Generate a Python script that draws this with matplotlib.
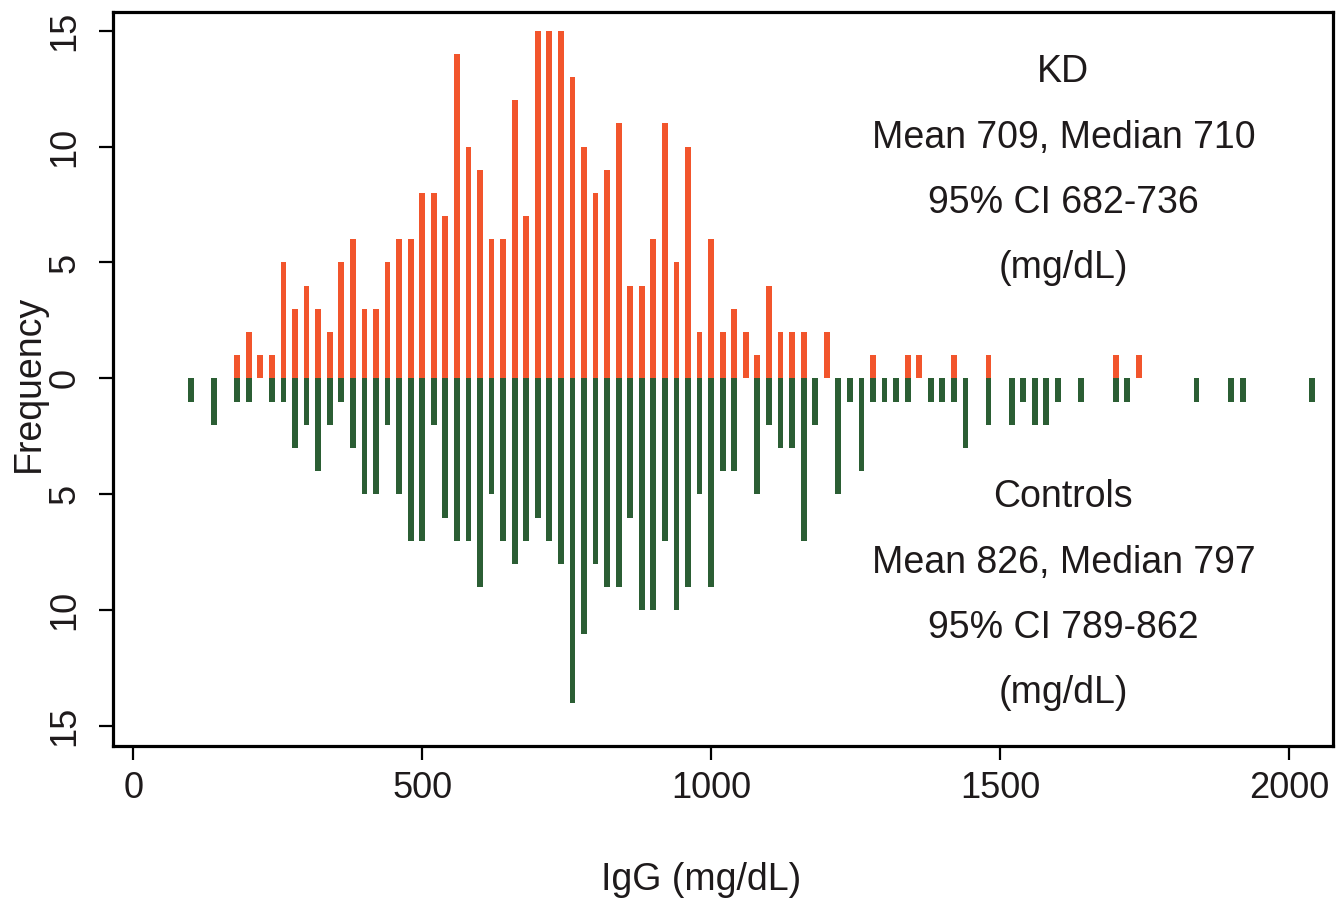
import numpy as np
import matplotlib.pyplot as plt

plt.rcParams['font.family'] = ['Liberation Sans', 'DejaVu Sans']

# --- bin positions (IgG, mg/dL) and counts ---
kd_bins = [180, 200, 220, 240, 260, 280, 300, 320, 340, 360, 380, 400, 420, 440,
           460, 480, 500, 520, 540, 560, 580, 600, 620, 640, 660, 680, 700, 720,
           740, 760, 780, 800, 820, 840, 860, 880, 900, 920, 940, 960, 980, 1000,
           1020, 1040, 1060, 1080, 1100, 1120, 1140, 1160, 1200, 1280, 1340, 1360,
           1420, 1480, 1700, 1740]
kd_counts = [1, 2, 1, 1, 5, 3, 4, 3, 2, 5, 6, 3, 3, 5,
             6, 6, 8, 8, 7, 14, 10, 9, 6, 6, 12, 7, 15, 15,
             15, 13, 10, 8, 9, 11, 4, 4, 6, 11, 5, 10, 2, 6,
             2, 3, 2, 1, 4, 2, 2, 2, 2, 1, 1, 1,
             1, 1, 1, 1]

ctrl_bins = [100, 140, 180, 200, 240, 260, 280, 300, 320, 340, 360, 380, 400, 420,
             440, 460, 480, 500, 520, 540, 560, 580, 600, 620, 640, 660, 680, 700,
             720, 740, 760, 780, 800, 820, 840, 860, 880, 900, 920, 940, 960, 980,
             1000, 1020, 1040, 1080, 1100, 1120, 1140, 1160, 1180, 1220, 1240, 1260,
             1280, 1300, 1320, 1340, 1380, 1400, 1420, 1440, 1480, 1520, 1540, 1560,
             1580, 1600, 1640, 1700, 1720, 1840, 1900, 1920, 2040]
ctrl_counts = [1, 2, 1, 1, 1, 1, 3, 2, 4, 2, 1, 3, 5, 5,
               2, 5, 7, 7, 2, 6, 7, 7, 9, 5, 7, 8, 7, 6,
               7, 8, 14, 11, 8, 9, 9, 6, 10, 10, 7, 10, 9, 5,
               9, 4, 4, 5, 2, 3, 3, 7, 2, 5, 1, 4,
               1, 1, 1, 1, 1, 1, 1, 3, 2, 2, 1, 2,
               2, 1, 1, 1, 1, 1, 1, 1, 1]

yticks = [-15, -10, -5, 0, 5, 10, 15]

kd_text = ['KD', 'Mean 709, Median 710', '95% CI 682-736', '(mg/dL)']
ctrl_text = ['Controls', 'Mean 826, Median 797', '95% CI 789-862', '(mg/dL)']

orange = '#F2552C'
green = '#2B5E34'
txt = '#1E1A1B'

fig = plt.figure(figsize=(13.43, 9.02), dpi=100)
ax = fig.add_axes([113/1343, 1 - 746/902, 1220/1343, 734/902])

ax.bar(kd_bins, kd_counts, width=10, color=orange, linewidth=0)
ax.bar(ctrl_bins, -np.array(ctrl_counts), width=10, color=green, linewidth=0)

ax.set_xlim(-35, 2076)
ax.set_ylim(-15.85, 15.8)
ax.set_xticks([0, 500, 1000, 1500, 2000])
ax.set_yticks(yticks)
ax.set_yticklabels([str(abs(v)) for v in yticks], rotation=90, va='center')

for s in ax.spines.values():
    s.set_linewidth(2.3)
ax.tick_params(axis='both', length=10, width=1.6, labelsize=26, colors='black',
               labelcolor=txt)
ax.tick_params(axis='x', pad=8)
ax.tick_params(axis='y', pad=12)

# axis titles placed in figure pixels to match the reference
fig.text(701/1343, 1 - 880/902, 'IgG (mg/dL)', ha='center', va='center',
         fontsize=27, color=txt)
fig.text(29/1343, 1 - 383/902, 'Frequency', ha='center', va='center',
         rotation=90, fontsize=27, color=txt)

for i, s in enumerate(kd_text):
    ax.text(0.779, 0.918 - i * 0.089, s, transform=ax.transAxes, ha='center',
            va='center', fontsize=27, color=txt)
for i, s in enumerate(ctrl_text):
    ax.text(0.779, 0.339 - i * 0.089, s, transform=ax.transAxes, ha='center',
            va='center', fontsize=27, color=txt)

fig.savefig('out.png', dpi=100)
